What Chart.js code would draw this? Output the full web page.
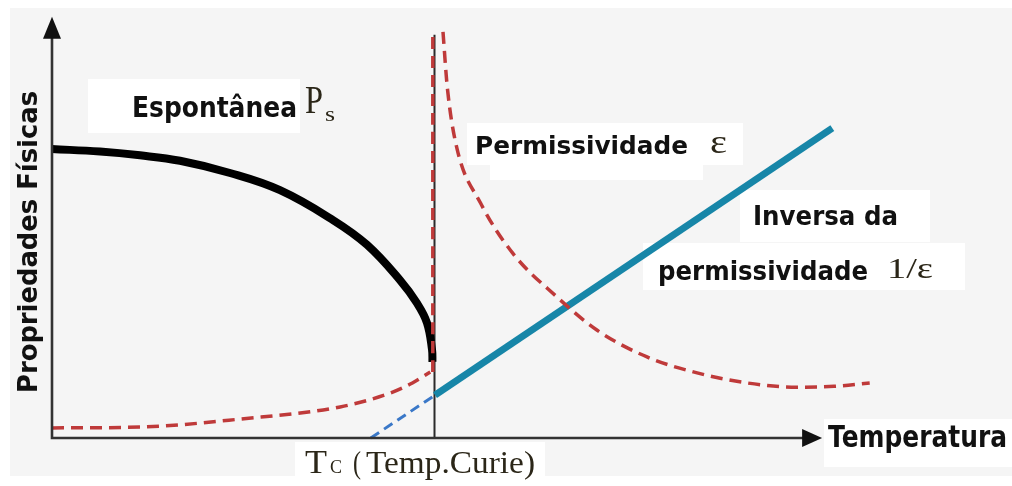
<!DOCTYPE html>
<html>
<head>
<meta charset="utf-8">
<script src="https://cdn.jsdelivr.net/npm/chart.js@4.4.1/dist/chart.umd.min.js"></script>
<style>
  html, body { margin: 0; padding: 0; background: #fff; }
  #wrap { width: 1012px; height: 486px; }
</style>
</head>
<body>
<div id="wrap"><canvas id="curie" width="1012" height="486"></canvas></div>
<script>
// Curie temperature (same arbitrary units as the x axis)
const tcTemp = 45;

// spontaneous polarization Ps below Tc
const psTemp = [0, 5.65, 10.35, 15.06, 20.94, 26.82, 33.06, 37.06, 40.94, 42.94, 44.12, 44.71, 44.76];
const psValue = [68.8, 68.2, 67.3, 66.0, 63.1, 59.0, 51.9, 46.0, 37.6, 32.1, 27.4, 21.0, 18.1];

// permittivity below Tc, then its rise along Tc
const epsBelowTemp = [0, 10.35, 22.1, 33.9, 39.8, 42.4, 44.5];
const epsBelowValue = [2.4, 2.6, 4.5, 7.4, 10.7, 13.1, 15.7];
const epsRiseTemp = [44.8, 44.8];
const epsRiseValue = [15.7, 96.5];

// permittivity above Tc (Curie-Weiss fall)
const epsAboveTemp = [46.0, 46.5, 47.6, 50.4, 54.2, 59.4, 64.1, 70.0, 75.9, 81.8, 87.6, 92.0, 96.2];
const epsAboveValue = [96.7, 83.6, 69.3, 56.0, 44.0, 33.6, 25.7, 19.3, 15.5, 13.1, 12.1, 12.3, 13.1];

// inverse permittivity, straight line above Tc and its extrapolation below
const invTemp = [45.06, 91.8];
const invValue = [10.2, 73.8];
const invExtTemp = [37.5, 45.06];
const invExtValue = [0, 10.2];

// axis extents
const xAxisEnd = 90.6;
const yAxisEnd = 100.3;
const tcLineTop = 96;

function pts(xs, ys) {
  return xs.map((x, i) => ({ x: x, y: ys[i] }));
}

function fitText(ctx, str, x, base, width, font, color) {
  ctx.font = font;
  ctx.fillStyle = color;
  ctx.textBaseline = 'alphabetic';
  ctx.textAlign = 'left';
  const m = ctx.measureText(str).width;
  ctx.save();
  ctx.translate(x, base);
  ctx.scale(width / m, 1);
  ctx.fillText(str, 0, 0);
  ctx.restore();
}

const schematic = {
  id: 'schematic',
  beforeDraw(chart) {
    const ctx = chart.ctx;
    ctx.save();
    ctx.fillStyle = '#ffffff';
    ctx.fillRect(0, 0, chart.width, chart.height);
    ctx.fillStyle = '#f5f5f5';
    ctx.fillRect(10, 8, chart.width - 10, 468);

    // white patches behind the labels
    ctx.fillStyle = '#ffffff';
    ctx.fillRect(88, 79, 212, 54);
    ctx.fillRect(467, 123, 276, 42);
    ctx.fillRect(490, 165, 213, 15);
    ctx.fillRect(740, 190, 190, 52);
    ctx.fillRect(643, 243, 322, 47);
    ctx.fillRect(824, 419, 188, 48);
    ctx.fillRect(295, 442, 250, 44);
    ctx.restore();
  },
  beforeDatasetsDraw(chart) {
    const ctx = chart.ctx;
    const sx = chart.scales.x, sy = chart.scales.y;
    const xt = sx.getPixelForValue(tcTemp);
    ctx.save();
    ctx.strokeStyle = '#2a2a2a';
    ctx.lineWidth = 2;
    ctx.beginPath();
    ctx.moveTo(xt, sy.getPixelForValue(tcLineTop));
    ctx.lineTo(xt, sy.getPixelForValue(0));
    ctx.stroke();
    ctx.restore();
  },
  afterDatasetsDraw(chart) {
    const ctx = chart.ctx;
    const sx = chart.scales.x, sy = chart.scales.y;
    const x0 = sx.getPixelForValue(0);
    const y0 = sy.getPixelForValue(0);
    const xEnd = sx.getPixelForValue(xAxisEnd);
    const yEnd = sy.getPixelForValue(yAxisEnd);

    ctx.save();
    ctx.strokeStyle = '#333333';
    ctx.lineWidth = 2.6;
    ctx.beginPath();
    ctx.moveTo(x0, yEnd + 12);
    ctx.lineTo(x0, y0);
    ctx.lineTo(xEnd - 12, y0);
    ctx.stroke();

    // arrow heads
    ctx.fillStyle = '#111111';
    ctx.beginPath();
    ctx.moveTo(x0, yEnd);
    ctx.lineTo(x0 - 9, yEnd + 22);
    ctx.lineTo(x0 + 9, yEnd + 22);
    ctx.closePath();
    ctx.fill();
    ctx.beginPath();
    ctx.moveTo(xEnd, y0);
    ctx.lineTo(xEnd - 20, y0 - 9);
    ctx.lineTo(xEnd - 20, y0 + 9);
    ctx.closePath();
    ctx.fill();

    const sans = '"DejaVu Sans", Verdana, sans-serif';
    const serif = '"Liberation Serif", "Times New Roman", serif';
    const ink = '#111111';
    const mathInk = '#2b2618';

    // y axis title
    ctx.save();
    ctx.translate(37, 393);
    ctx.rotate(-Math.PI / 2);
    fitText(ctx, 'Propriedades Físicas', 0, 0, 302, 'bold 26px ' + sans, ink);
    ctx.restore();

    fitText(ctx, 'Espontânea', 132, 116.5, 165, 'bold 28px ' + sans, ink);
    fitText(ctx, 'P', 305, 113, 18, '40px ' + serif, mathInk);
    fitText(ctx, 's', 325, 121, 10, '22px ' + serif, mathInk);

    fitText(ctx, 'Permissividade', 475, 154.3, 213, 'bold 25px ' + sans, ink);
    fitText(ctx, 'ε', 710, 153, 17, '34px ' + serif, mathInk);

    fitText(ctx, 'Inversa da', 753, 225, 145, 'bold 26px ' + sans, ink);
    fitText(ctx, 'permissividade', 658, 279.5, 210, 'bold 26px ' + sans, ink);
    fitText(ctx, '1/ε', 887, 278, 46, '30px ' + serif, mathInk);

    fitText(ctx, 'Temperatura', 828, 447, 179, 'bold 30px ' + sans, ink);

    fitText(ctx, 'T', 305, 473.3, 22, '33px ' + serif, mathInk);
    fitText(ctx, 'C', 330, 473.3, 12, '19px ' + serif, mathInk);
    fitText(ctx, '(', 353, 473.3, 8, '32px ' + serif, mathInk);
    fitText(ctx, 'Temp.Curie)', 366, 473.3, 169, '32px ' + serif, mathInk);
    ctx.restore();
  }
};

const red = '#bf3a3a';

new Chart(document.getElementById('curie'), {
  type: 'scatter',
  data: {
    datasets: [
      {
        label: 'εrise',
        data: pts(epsRiseTemp, epsRiseValue),
        borderColor: red, borderWidth: 3.5, borderDash: [12, 7],
        order: 1
      },
      {
        label: 'εbelow',
        data: pts(epsBelowTemp, epsBelowValue),
        borderColor: red, borderWidth: 3.5, borderDash: [12, 7],
        order: 2
      },
      {
        label: 'εabove',
        data: pts(epsAboveTemp, epsAboveValue),
        borderColor: red, borderWidth: 3.5, borderDash: [12, 7],
        order: 2
      },
      {
        label: 'Ps',
        data: pts(psTemp, psValue),
        borderColor: '#000000', borderWidth: 8,
        cubicInterpolationMode: 'default', tension: 0.4,
        order: 3
      },
      {
        label: '1/ε',
        data: pts(invTemp, invValue),
        borderColor: '#1786a8', borderWidth: 7,
        order: 2
      },
      {
        label: '1/ε ext',
        data: pts(invExtTemp, invExtValue),
        borderColor: '#3a78c8', borderWidth: 3, borderDash: [10, 6],
        order: 2
      }
    ].map(d => Object.assign({
      showLine: true,
      pointRadius: 0,
      fill: false,
      clip: false,
      cubicInterpolationMode: 'monotone'
    }, d))
  },
  options: {
    responsive: false,
    animation: false,
    events: [],
    layout: { padding: { left: 52, right: 110, top: 18, bottom: 48 } },
    scales: {
      x: { type: 'linear', min: 0, max: 100, display: false },
      y: { type: 'linear', min: 0, max: 100, display: false }
    },
    plugins: {
      legend: { display: false },
      tooltip: { enabled: false }
    }
  },
  plugins: [schematic]
});
</script>
</body>
</html>
